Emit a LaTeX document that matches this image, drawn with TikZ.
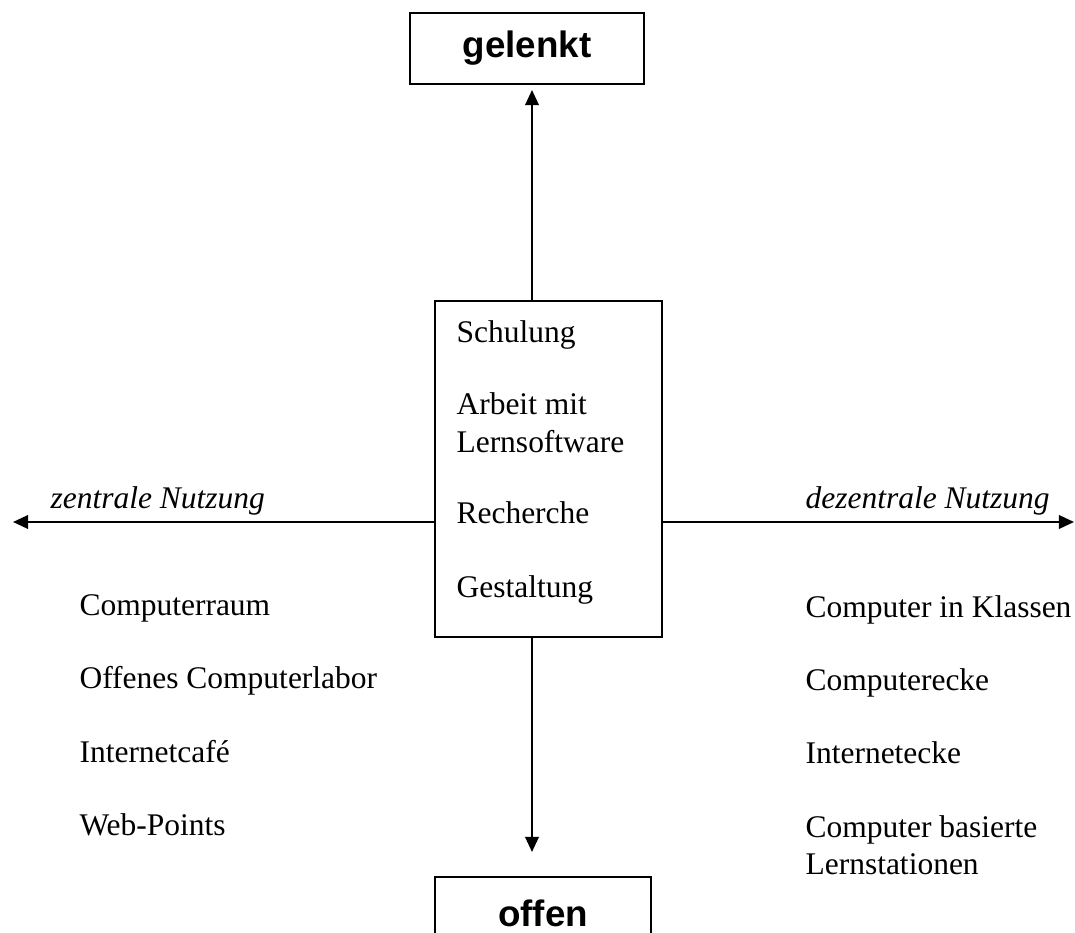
\documentclass[tikz,border=0pt]{standalone}
\usepackage{fontspec}
\setmainfont{Liberation Serif}
\newfontfamily\headfont{Liberation Sans}
\usetikzlibrary{arrows.meta}
\newcommand{\px}{0.381pt}

\begin{document}
\begin{tikzpicture}[x=\px, y=-\px,
    head/.style={draw, rectangle, line width=0.9pt, inner sep=0pt, font=\headfont\bfseries\fontsize{14}{16}\selectfont},
    box/.style={draw, rectangle, line width=0.9pt, inner sep=0pt},
    item/.style={anchor=base west, inner sep=0pt, align=left, font=\fontsize{12}{14.1}\selectfont},
    way/.style={item, font=\itshape\fontsize{12}{14.1}\selectfont},
    axis/.style={line width=0.8pt, -{Triangle[length=5.8pt, width=5.2pt]}}]
    \useasboundingbox (0,0) rectangle (1075,933);

    % Boxes
    \node[head, minimum width=234*\px, minimum height=71*\px] (gelenkt) at (527,48.5) {gelenkt};
    \node[head, minimum width=216*\px, minimum height=73*\px] (offen) at (543,913.5) {offen};
    \node[box, minimum width=227*\px, minimum height=336*\px] (mid) at (548.5,469) {};

    % Arrow ends
    \coordinate (up) at (532,90);
    \coordinate (down) at (532,852);
    \coordinate (left) at (13,522);
    \coordinate (right) at (1074,522);

    \draw[axis] (mid.north -| up) -- (up);
    \draw[axis] (mid.south -| down) -- (down);
    \draw[axis] (mid.west |- left) -- (left);
    \draw[axis] (mid.east |- right) -- (right);

    % Middle (base = last line)
    \node[item] (schulung) at (456,342) {Schulung};
    \node[item] (arbeit) at (456,452) {Arbeit mit\\Lernsoftware};
    \node[item] (recherche) at (456,523) {Recherche};
    \node[item] (gestaltung) at (456,597) {Gestaltung};

    % Left side
    \node[way] (zentral) at (50,508) {zentrale Nutzung};
    \node[item] (raum) at (79,615) {Computerraum};
    \node[item] (labor) at (79,688) {Offenes Computerlabor};
    \node[item] (cafe) at (79,762) {Internetcafé};
    \node[item] (web) at (79,835) {Web-Points};

    % Right side
    \node[way] (dezentral) at (805,508) {dezentrale Nutzung};
    \node[item] (klassen) at (805,617) {Computer in Klassen};
    \node[item] (ecke) at (805,690) {Computerecke};
    \node[item] (inet) at (805,763) {Internetecke};
    \node[item] (station) at (805,874) {Computer basierte\\Lernstationen};

\end{tikzpicture}
\end{document}
